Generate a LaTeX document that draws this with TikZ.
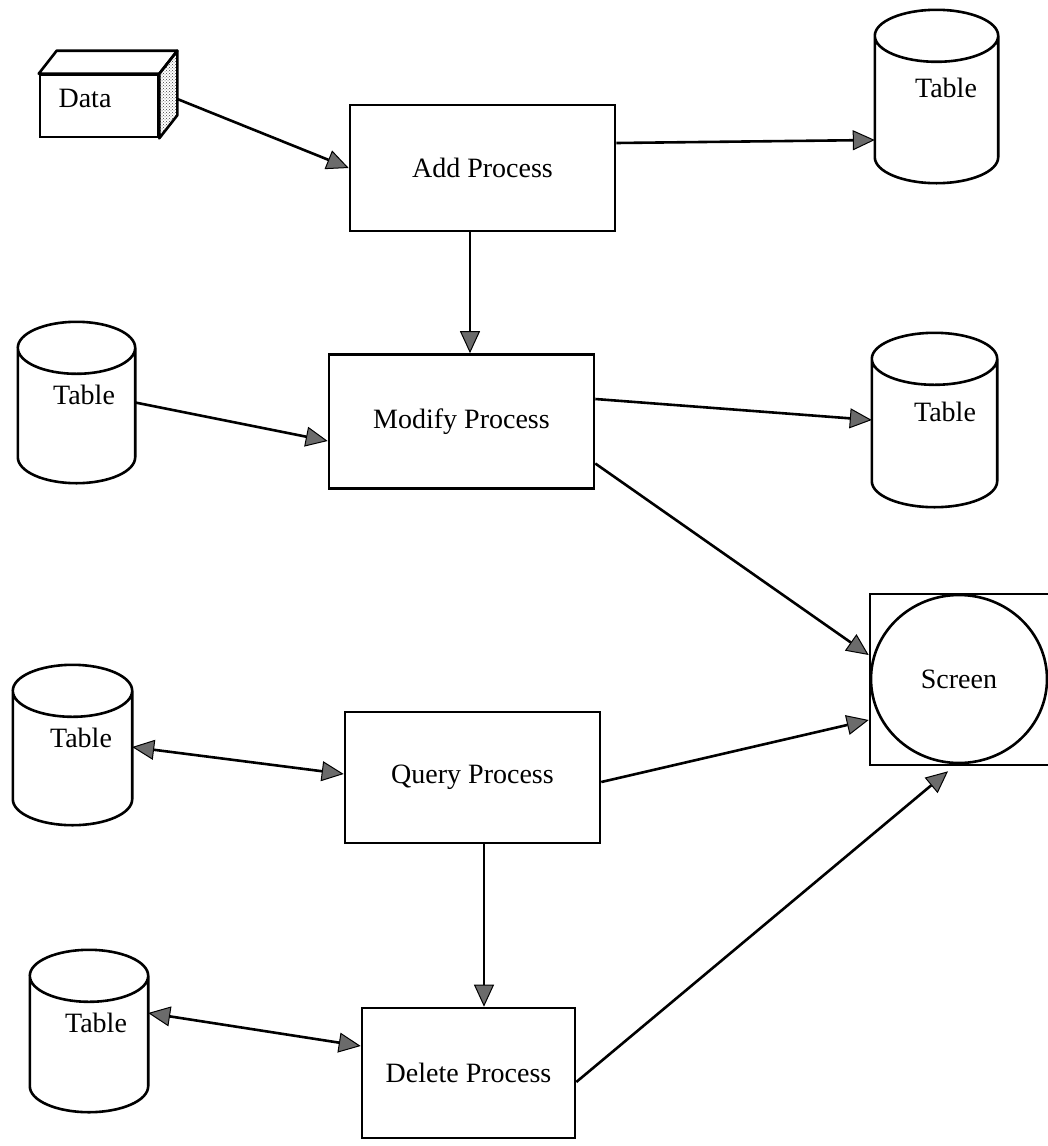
\documentclass[tikz,border=0pt]{standalone}
\usepackage{fontspec}
\setmainfont{Liberation Serif}
\usetikzlibrary{arrows.meta,calc,shapes.geometric,patterns}

% drum-shaped data store drawn inside the rectangle of a named node
\newcommand\dbdrum[1]{%
  \draw[ln,fill=white] let \p1=(#1.north west),\p2=(#1.south east),
        \n1={0.5*(\x2-\x1)} in
    (\x1,{\y1-26pt}) -- (\x1,{\y2+26pt})
      arc[start angle=180,end angle=360,x radius=\n1,y radius=26pt]
      -- (\x2,{\y1-26pt})
      arc[start angle=0,end angle=180,x radius=\n1,y radius=26pt] -- cycle
    ({0.5*\x1+0.5*\x2},{\y1-26pt}) ellipse[x radius=\n1,y radius=26pt];}

\begin{document}
\begin{tikzpicture}[x=1pt,y=1pt,
  ln/.style={line width=2.6pt},
  txt/.style={font=\fontsize{28}{32}\selectfont,inner sep=0pt},
  proc/.style={draw,ln,rectangle,inner sep=0pt,txt},
  drum/.style={rectangle,inner sep=0pt},
  flow/.style={ln,-{Triangle[length=22pt,width=20pt,fill=black!58,line width=1pt]}},
  duplex/.style={ln,{Triangle[length=22pt,width=20pt,fill=black!58,line width=1pt]}-{Triangle[length=22pt,width=20pt,fill=black!58,line width=1pt]}},
]
\useasboundingbox (0,0) rectangle (1048,-1146);

% ---- data source box (3D) ----
\node[draw,ln,fill=white,minimum width=118pt,minimum height=62pt,inner sep=0pt] (data) at (99,-106) {};
\draw[ln,fill=white,line join=round] (data.north west) -- ++(18,23) -- ($(data.north east)+(18,23)$) -- (data.north east) -- cycle;
\draw[ln,pattern=crosshatch dots,pattern color=black!75,line join=round] (data.north east) -- ++(18,23) -- ($(data.south east)+(18,23)$) -- (data.south east) -- cycle;
\node[txt] (datatext) at (85,-98) {Data};
\coordinate (dataout) at ($(data.east)+(18,7)$);

% ---- processes ----
\node[proc,minimum width=265pt,minimum height=126pt] (add)    at (482.5,-168)  {Add Process};
\node[proc,minimum width=265pt,minimum height=134pt] (modify) at (461.5,-421.5) {Modify Process};
\node[proc,minimum width=255pt,minimum height=131pt] (query)  at (472.5,-777.5) {Query Process};
\node[proc,minimum width=213pt,minimum height=130pt] (delete) at (468.5,-1073) {Delete Process};

% ---- tables ----
\node[drum,minimum width=123pt,minimum height=173pt] (t1) at (936.5,-96.5) {};
\node[drum,minimum width=117pt,minimum height=161pt] (t2) at (76.5,-402.5) {};
\node[drum,minimum width=125pt,minimum height=174pt] (t5) at (934.5,-420) {};
\node[drum,minimum width=119pt,minimum height=160pt] (t3) at (72.5,-745) {};
\node[drum,minimum width=118pt,minimum height=162pt] (t4) at (89,-1031) {};
\dbdrum{t1}\dbdrum{t2}\dbdrum{t5}\dbdrum{t3}\dbdrum{t4}
\node[txt] (t1text) at (946,-88)  {Table};
\node[txt] (t2text) at (84,-395)  {Table};
\node[txt] (t5text) at (945,-412) {Table};
\node[txt] (t3text) at (81,-738)  {Table};
\node[txt] (t4text) at (96,-1023) {Table};

% ---- screen ----
\node[draw,ln,minimum width=200pt,minimum height=171pt,inner sep=0pt] (scrbox) at (970,-679.5) {};
\node[draw,ln,ellipse,minimum width=176pt,minimum height=168pt,txt] (screen) at (959,-679) {Screen};

% ---- connectors ----
\draw[flow] (dataout) -- (add.west);
\draw[flow] ([yshift=25pt]add.east) -- ([yshift=-43.5pt]t1.west);
\draw[flow] ([xshift=-12.5pt]add.south) -- ([xshift=8.5pt]modify.north);
\draw[flow] (t2.east) -- ([yshift=-19.5pt]modify.west);
\draw[flow] ([yshift=22.5pt]modify.east) -- (t5.west);
\draw[flow] ([yshift=-42pt]modify.east) -- ([yshift=24.5pt]scrbox.west);
\draw[duplex] ([yshift=-2pt]t3.east) -- ([yshift=3.5pt]query.west);
\draw[flow] ([yshift=-4.5pt]query.east) -- ([yshift=-40.5pt]scrbox.west);
\draw[flow] ([xshift=11.5pt]query.south) -- ([xshift=15.5pt]delete.north);
\draw[duplex] ([yshift=18pt]t4.east) -- ([yshift=27pt]delete.west);
\draw[flow] ([yshift=-9pt]delete.east) -- ([xshift=-22pt,yshift=-5pt]scrbox.south);
\end{tikzpicture}
\end{document}
